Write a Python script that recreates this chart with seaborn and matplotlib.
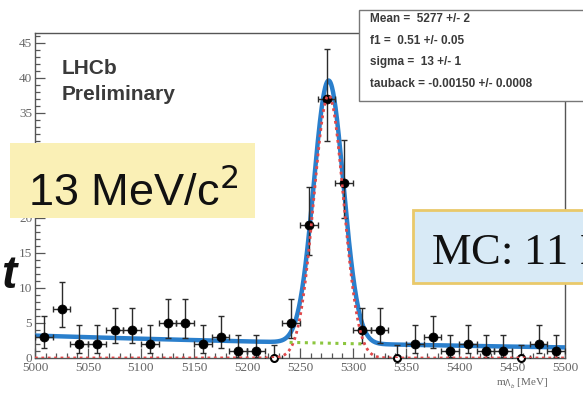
import numpy as np
import pandas as pd
import matplotlib
matplotlib.use("Agg")
import matplotlib.pyplot as plt
import seaborn as sns
from matplotlib.patches import Rectangle
from matplotlib.ticker import MultipleLocator, FixedLocator, FixedFormatter

# ---------------- data ----------------
mass_centers = [5008.3, 5025.0, 5041.7, 5058.3, 5075.0, 5091.7, 5108.3, 5125.0, 5141.7, 5158.3,
                5175.0, 5191.7, 5208.3, 5225.0, 5241.7, 5258.3, 5275.0, 5291.7, 5308.3, 5325.0,
                5341.7, 5358.3, 5375.0, 5391.7, 5408.3, 5425.0, 5441.7, 5458.3, 5475.0, 5491.7]
counts = [3, 7, 2, 2, 4, 4, 2, 5, 5, 2,
          3, 1, 1, 0, 5, 19, 37, 25, 4, 4,
          0, 2, 3, 1, 2, 1, 1, 0, 2, 1]
bin_half_width = 8.33

# fit model parameters (stats box) and drawn amplitudes
fit_mean = 5277.0
fit_sigma = 14.0
sig_amp = 37.5
bkg_amp = 3.2
tauback = -0.0015
green_range = (5240.0, 5310.0)

x_ticks = [5000, 5050, 5100, 5150, 5200, 5250, 5300, 5350, 5400, 5450, 5500]
y_ticks = [0, 5, 10, 15, 20, 25, 30, 35, 40, 45]
# labels 25 and 30 sit under the yellow overlay in the reference
y_tick_labels = ["0", "5", "10", "15", "20", "", "", "35", "40", "45"]
stats_lines = ["Mean =  5277 +/- 2", "f1 =  0.51 +/- 0.05", "sigma =  13 +/- 1",
               "tauback = -0.00150 +/- 0.0008"]

# ---------------- derived ----------------
n = np.array(counts, dtype=float)
hi_err = np.sqrt(n + 0.75) + 1.0
nn = np.maximum(n, 1)
lo_err = np.where(n > 0, n - n * (1 - 1 / (9 * nn) - 1 / (3 * np.sqrt(nn))) ** 3, 0.0)
df = pd.DataFrame({"m": mass_centers, "n": counts})

xs = np.linspace(5000, 5500, 1500)
bkg = bkg_amp * np.exp(tauback * (xs - 5000))
sig = sig_amp * np.exp(-0.5 * ((xs - fit_mean) / fit_sigma) ** 2)
curves = pd.DataFrame({"m": xs, "total": bkg + sig, "sig": sig, "bkg": bkg})
gmask = (xs >= green_range[0]) & (xs <= green_range[1])

# ---------------- figure ----------------
sns.set_theme(style="white")
plt.rcParams['font.family'] = ['Liberation Serif', 'DejaVu Serif']
W, H = 583, 393
fig = plt.figure(figsize=(W / 100, H / 100), dpi=100, facecolor="white")
ax = fig.add_axes([35 / W, 1 - 358 / H, 530 / W, 325 / H])
ax.set_facecolor("white")

sns.lineplot(data=curves, x="m", y="total", ax=ax, color="#2a7fcc", lw=3.2, zorder=3)
ax.errorbar(df["m"], df["n"], yerr=[lo_err, hi_err], xerr=bin_half_width, fmt="none",
            ecolor="#2b2b2b", elinewidth=1.0, capsize=2.4, capthick=1.0, zorder=4)
sns.scatterplot(data=df[df["n"] > 0], x="m", y="n", ax=ax, color="black", s=42,
                edgecolor="black", zorder=5)
sns.scatterplot(data=df[df["n"] == 0], x="m", y="n", ax=ax, color="white", s=25,
                edgecolor="black", linewidth=1.5, zorder=5, clip_on=False)
sns.lineplot(data=curves, x="m", y="sig", ax=ax, color="#e0484a", lw=2.0,
             linestyle=(0, (1, 1.3)), zorder=6)
sns.lineplot(data=curves[gmask], x="m", y="bkg", ax=ax, color="#8cc63f", lw=2.2,
             linestyle=(0, (1, 1.5)), zorder=6)

ax.set_xlim(5000, 5500)
ax.set_ylim(0, 46.4)
ax.set_xlabel("")
ax.set_ylabel("")
ax.xaxis.set_major_locator(FixedLocator(x_ticks))
ax.yaxis.set_major_locator(FixedLocator(y_ticks))
ax.yaxis.set_major_formatter(FixedFormatter(y_tick_labels))
ax.xaxis.set_minor_locator(MultipleLocator(10))
ax.yaxis.set_minor_locator(MultipleLocator(1))
ax.tick_params(which="both", direction="in", top=False, right=False, bottom=True, left=True,
               color="#555555", width=0.9, labelcolor="#666666", labelsize=9.5)
ax.tick_params(which="major", length=7)
ax.tick_params(which="minor", length=3.8)
ax.tick_params(axis="x", pad=3)
ax.tick_params(axis="y", pad=2)
for s in ax.spines.values():
    s.set_color("#555555")
    s.set_linewidth(1.0)

def fy(py):
    return 1 - py / H

fig.text(522 / W, fy(384), r"m$_{\Lambda_b}$ [MeV]", fontsize=8, color="#666666",
         ha="center", va="center")

# LHCb label
fig.text(62 / W, fy(68), "LHCb", fontsize=15, fontweight="bold", color="#3a3a3a",
         family=["Liberation Sans", "DejaVu Sans"], va="center")
fig.text(62 / W, fy(95), "Preliminary", fontsize=15, fontweight="bold", color="#3a3a3a",
         family=["Liberation Sans", "DejaVu Sans"], va="center")

# stats box
fig.add_artist(Rectangle((359 / W, fy(101)), (600 - 359) / W, (101 - 10) / H,
                         transform=fig.transFigure, facecolor="white", edgecolor="#777777",
                         lw=1.0, zorder=10))
for i, line in enumerate(stats_lines):
    fig.text(370 / W, fy(19 + 21.7 * i), line, fontsize=8.5, fontweight="bold", color="#3a3a3a",
             family=["Liberation Sans", "DejaVu Sans"], va="center", zorder=11)

# yellow overlay box
fig.add_artist(Rectangle((10 / W, fy(218)), (255 - 10) / W, (218 - 143) / H,
                         transform=fig.transFigure, facecolor="#faf0b6", edgecolor="none",
                         zorder=10))
fig.text(28 / W, fy(206), "13 MeV/c$^{2}$", fontsize=32.5, color="#111111",
         family=["Liberation Sans", "DejaVu Sans"], va="baseline", zorder=11)

# blue overlay box
fig.add_artist(Rectangle((413 / W, fy(283)), (600 - 413) / W, (283 - 210) / H,
                         transform=fig.transFigure, facecolor="#d8eaf6", edgecolor="#e9c96a",
                         lw=2.0, zorder=10))
fig.text(431 / W, fy(265), "MC: 11 MeV/c$^{2}$", fontsize=32, color="#111111",
         family=["Liberation Serif", "DejaVu Serif"], va="baseline", zorder=11)

# cut-off large italic letter at the left edge
fig.text(1 / W, fy(288), "t", fontsize=33, style="italic", fontweight="bold", color="#111111",
         family=["Liberation Sans", "DejaVu Sans"], va="baseline", zorder=11)

fig.savefig("out.png", dpi=100, facecolor="white")
